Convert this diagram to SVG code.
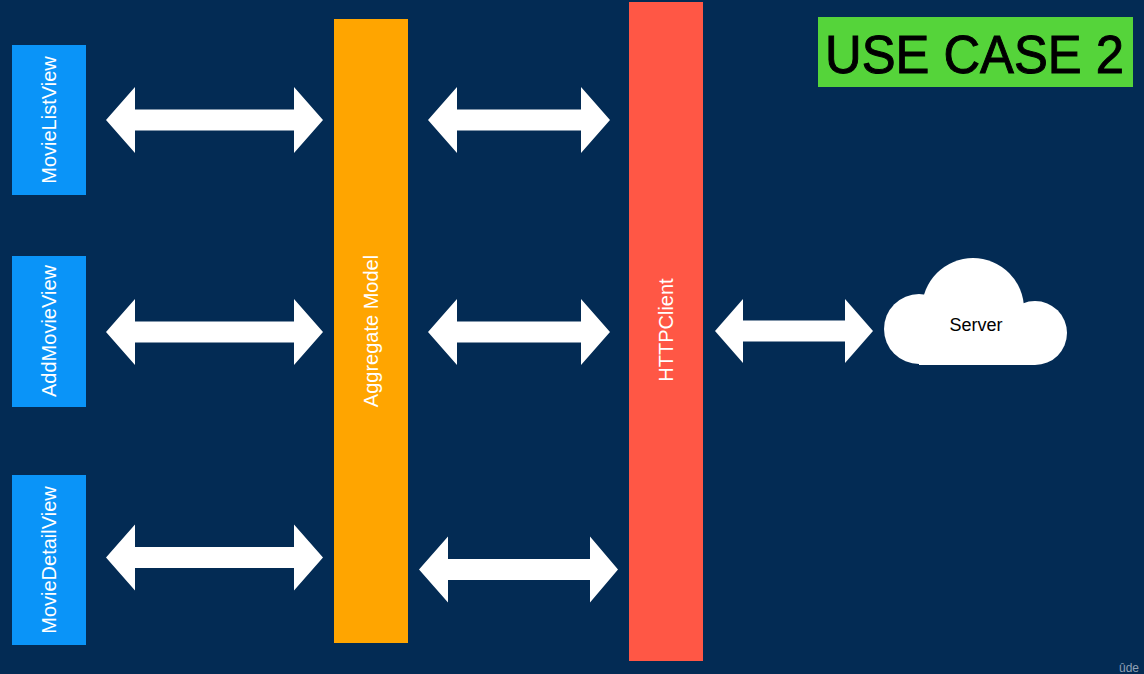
<svg xmlns="http://www.w3.org/2000/svg" width="1144" height="674" viewBox="0 0 1144 674">
<style>
.view{fill:#0A94F8}
.vlabel{font-family:"Liberation Sans",Arial,sans-serif;font-size:20px;fill:#ffffff;text-anchor:middle}
.arrow{fill:#ffffff}
</style>
<rect x="0" y="0" width="1144" height="674" fill="#032B54"/>
<g id="connectors">
<polygon class="arrow" points="106,120 135,87 135,109.5 294,109.5 294,87 323,120 294,153 294,130.5 135,130.5 135,153"/>
<polygon class="arrow" points="428,120 457,87 457,109.5 581,109.5 581,87 610,120 581,153 581,130.5 457,130.5 457,153"/>
<polygon class="arrow" points="106,332 135,299 135,321.5 294,321.5 294,299 323,332 294,365 294,342.5 135,342.5 135,365"/>
<polygon class="arrow" points="428,332 457,299 457,321.5 581,321.5 581,299 610,332 581,365 581,342.5 457,342.5 457,365"/>
<polygon class="arrow" points="106,557.5 135,524.5 135,547 294,547 294,524.5 323,557.5 294,590.5 294,568 135,568 135,590.5"/>
<polygon class="arrow" points="419,569.5 448,536.5 448,559 590,559 590,536.5 618,569.5 590,602.5 590,580 448,580 448,602.5"/>
<polygon class="arrow" points="715,331 743,299 743,320.5 845,320.5 845,299 873,331 845,363 845,341.5 743,341.5 743,363"/>
</g>
<g id="movielistview">
<rect class="view" x="12" y="45" width="74" height="150"/>
<text class="vlabel" transform="translate(49,120) rotate(-90)" dy="7">MovieListView</text>
</g>
<g id="addmovieview">
<rect class="view" x="12" y="256" width="74" height="151"/>
<text class="vlabel" transform="translate(49,331) rotate(-90)" dy="7">AddMovieView</text>
</g>
<g id="moviedetailview">
<rect class="view" x="12" y="475" width="74" height="170"/>
<text class="vlabel" transform="translate(49,560) rotate(-90)" dy="7">MovieDetailView</text>
</g>
<g id="aggregatemodel">
<rect x="334" y="19" width="74" height="624" fill="#FFA500"/>
<text class="vlabel" transform="translate(371,331) rotate(-90)" dy="7">Aggregate Model</text>
</g>
<g id="httpclient">
<rect x="629" y="2" width="74" height="659" fill="#FF5745"/>
<text class="vlabel" transform="translate(666,330) rotate(-90)" dy="7">HTTPClient</text>
</g>
<g id="server">
<g fill="#ffffff">
<circle cx="919" cy="329" r="35"/>
<circle cx="973" cy="309" r="51"/>
<circle cx="1035" cy="333" r="32"/>
<rect x="919" y="320" width="116" height="45"/>
</g>
<text x="976" y="331" font-family="Liberation Sans, Arial, sans-serif" font-size="18" fill="#000000" text-anchor="middle">Server</text>
</g>
<g id="title">
<rect x="818" y="17" width="315" height="70" fill="#55D43A"/>
<text x="825" y="73" font-family="Liberation Sans, Arial, sans-serif" font-size="54" fill="#000000" stroke="#000000" stroke-width="1" textLength="299" lengthAdjust="spacingAndGlyphs">USE CASE 2</text>
</g>
<text x="1119" y="672" font-family="Liberation Sans, Arial, sans-serif" font-size="12" fill="#8FA0B4">ûde</text>
</svg>
